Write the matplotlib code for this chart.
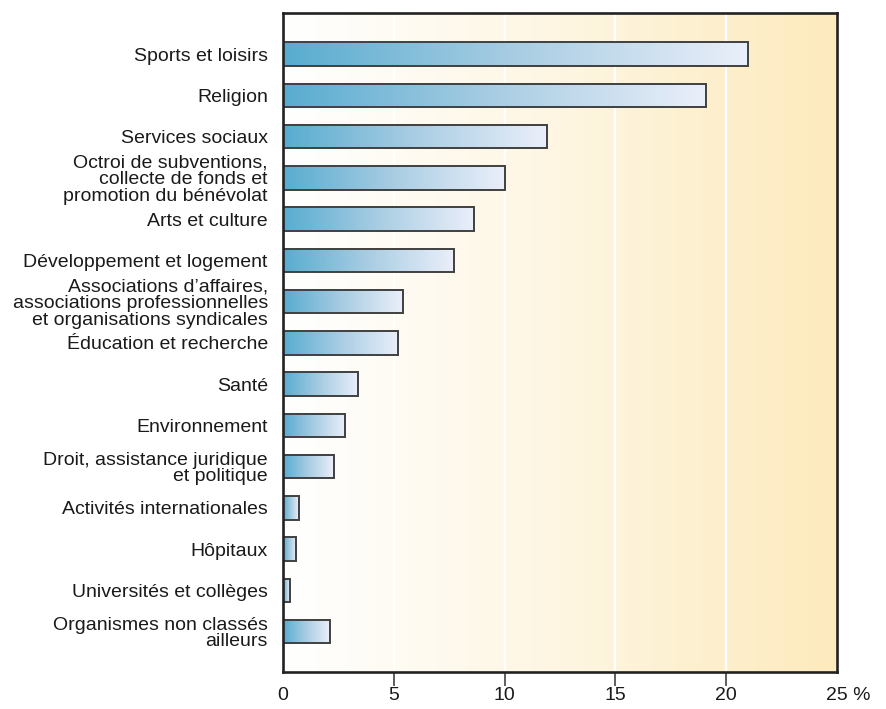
import numpy as np
import matplotlib.pyplot as plt
import matplotlib.transforms as mtransforms
from matplotlib.colors import LinearSegmentedColormap

plt.rcParams['font.family'] = ['Liberation Sans', 'DejaVu Sans']

categories = [
    "Sports et loisirs",
    "Religion",
    "Services sociaux",
    "Octroi de subventions,\ncollecte de fonds et\npromotion du bénévolat",
    "Arts et culture",
    "Développement et logement",
    "Associations d’affaires,\nassociations professionnelles\net organisations syndicales",
    "Éducation et recherche",
    "Santé",
    "Environnement",
    "Droit, assistance juridique\net politique",
    "Activités internationales",
    "Hôpitaux",
    "Universités et collèges",
    "Organismes non classés\nailleurs",
]
values = [21.0, 19.1, 11.9, 10.0, 8.6, 7.7, 5.4, 5.2, 3.4, 2.8, 2.3, 0.7, 0.6, 0.3, 2.1]
xticks = [0, 5, 10, 15, 20, 25]
xtick_labels = ["0", "5", "10", "15", "20", "25 %"]

bg_cmap = LinearSegmentedColormap.from_list("bg", ["#ffffff", "#fef6e2", "#fdeabd"])
bar_cmap = LinearSegmentedColormap.from_list("bar", ["#58acd0", "#a9cde3", "#eaeffa"])

fig = plt.figure(figsize=(8.87, 7.09), dpi=100)
ax = fig.add_axes([0.3191, 0.0522, 0.6246, 0.9295])

grad = np.linspace(0, 1, 256).reshape(1, -1)
ax.imshow(grad, cmap=bg_cmap, extent=[0, 25, 14.98, -1.0], aspect='auto', zorder=0)

ypos = np.arange(len(categories))
h = 0.57
for y, v in zip(ypos, values):
    ax.imshow(grad, cmap=bar_cmap, extent=[0, v, y + h / 2, y - h / 2],
              aspect='auto', zorder=3)
ax.barh(ypos, values, height=h, facecolor='none', edgecolor='#404040',
        linewidth=1.4, zorder=4)

for x in xticks[1:-1]:
    ax.axvline(x, color='white', linewidth=1.6, zorder=1)

ax.set_xlim(0, 25)
ax.set_ylim(14.98, -1.0)
ax.set_yticks(ypos)
ax.set_yticklabels(categories, fontsize=14, linespacing=0.98, color='#1a1a1a')
ax.tick_params(axis='y', length=0, pad=11)

# ticks only at the inner positions, labels at all
ax.set_xticks(xticks)
ax.set_xticklabels(xtick_labels, fontsize=14, color='#1a1a1a')
ax.tick_params(axis='x', length=10, width=1.1, color='#333333', pad=1)
for i, t in enumerate(ax.xaxis.get_major_ticks()):
    if i in (0, len(xticks) - 1):
        t.tick1line.set_visible(False)
# keep "25" centred on its tick with the % sign trailing
last = ax.get_xticklabels()[-1]
last.set_transform(last.get_transform() +
                   mtransforms.ScaledTranslation(8 / 72, 0, fig.dpi_scale_trans))

for s in ax.spines.values():
    s.set_linewidth(1.9)
    s.set_color('#222222')
    s.set_zorder(5)

fig.savefig("out.png", dpi=100)
